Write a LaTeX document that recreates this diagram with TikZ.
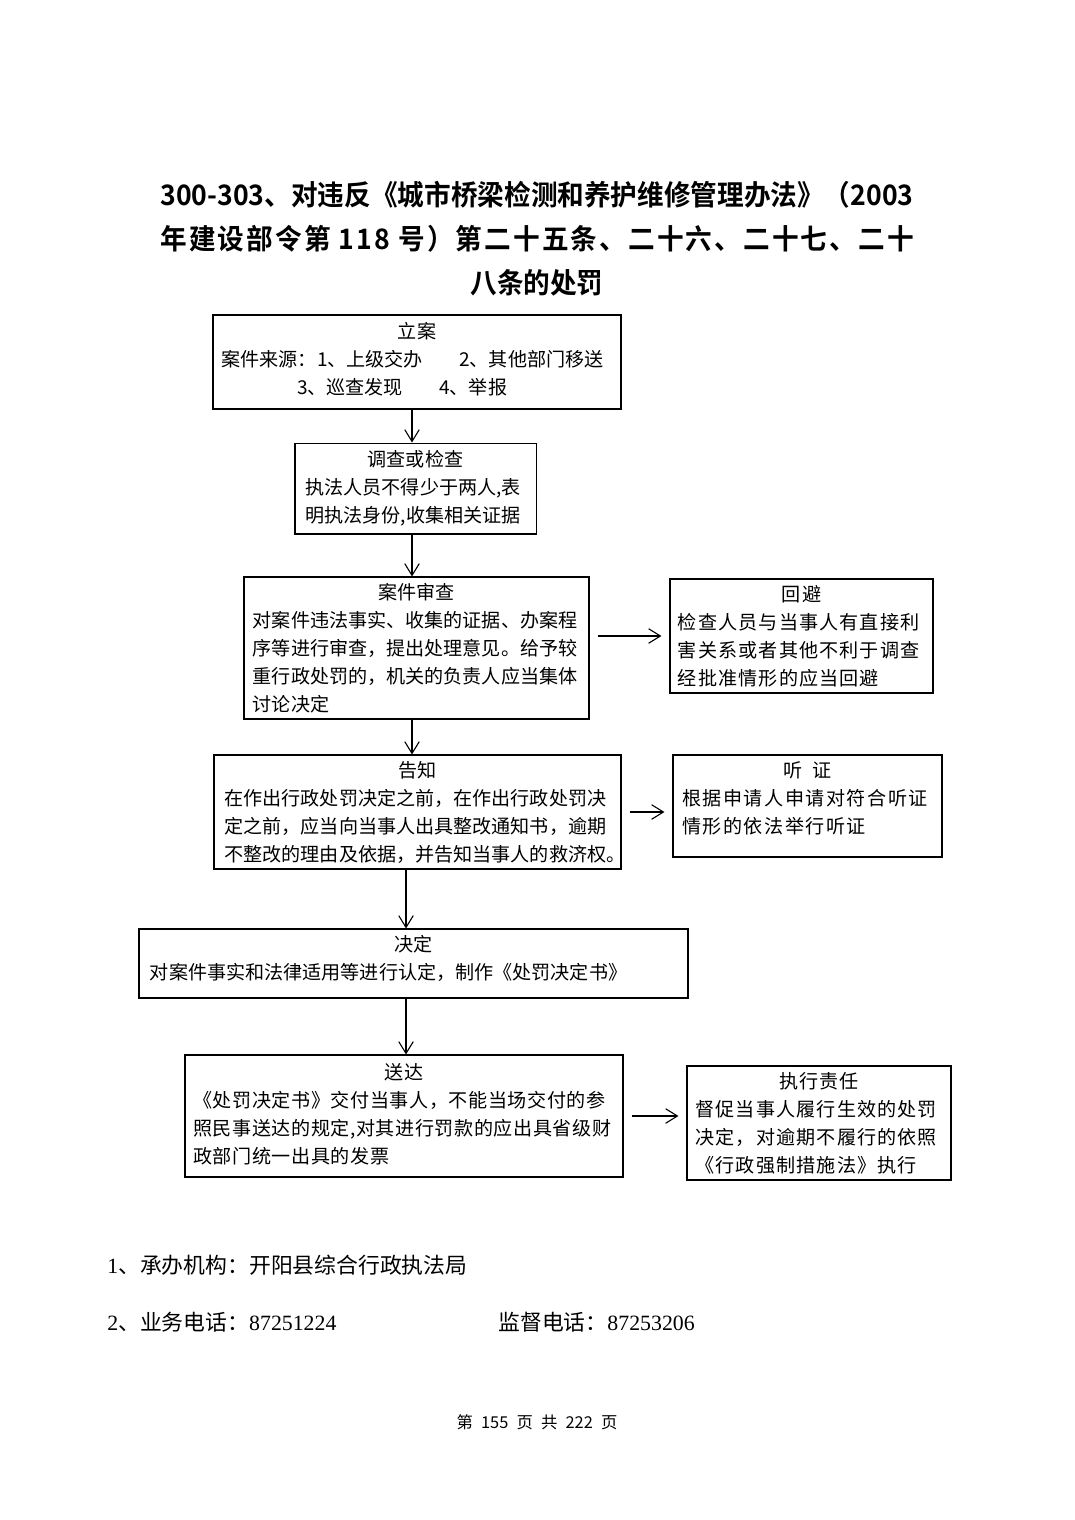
\documentclass[tikz,border=0pt]{standalone}
\usepackage{fontspec}
\setmainfont{Noto Sans CJK SC}[BoldFont={Noto Sans CJK SC Bold}]
\newfontfamily\numfont{Liberation Serif}
\newcommand{\dropby}[1]{\rule[-#1]{0pt}{0pt}}
\usetikzlibrary{arrows.meta}
\begin{document}
\begin{tikzpicture}[x=0.55pt,y=-0.55pt,
    box/.style={draw,line width=0.6pt,inner sep=0pt,align=left,
      font=\fontsize{10.5pt}{15.4pt}\selectfont},
    wide/.style={font=\fontsize{10.5pt}{15.4pt}\selectfont\addfontfeature{LetterSpace=#1}},
    arr/.style={line width=0.6pt,-{Straight Barb[length=6.5pt,width=8pt]}},
    side/.style={arr,shorten <=8pt*0.55,shorten >=8pt*0.55}]
  \useasboundingbox (0,0) rectangle (1074,1520);
  \node[align=center,font=\fontsize{15.5pt}{24.2pt}\selectfont\bfseries\addfontfeature{FakeStretch=0.945}] (title) at (537,239)
    {300-303、对违反《城市桥梁检测和养护维修管理办法》（2003\\
     {\addfontfeature{LetterSpace=7.5}年建设部令第 118 号）第二十五条、二十六、二十七、二十}\\
     八条的处罚};
  % main column
  \node[box,minimum width=224.4pt,minimum height=51.7pt,text width=215pt] (lian) at (417,362)
    {\makebox[\linewidth]{立案}\\
     案件来源：1、上级交办\kern1.9em 2、其他部门移送\\
     \hspace*{41.5pt}3、巡查发现\kern1.9em 4、举报\dropby{4.4pt}};
  \node[box,minimum width=132.6pt,minimum height=50pt,text width=121pt] (diaocha) at (415.5,488.5)
    {\makebox[\linewidth]{调查或检查}\\
     执法人员不得少于两人,表\\
     明执法身份,收集相关证据\dropby{1.5pt}};
  \node[box,minimum width=189.75pt,minimum height=78.1pt,text width=180pt] (shencha) at (416.5,648)
    {\makebox[\linewidth]{案件审查}\\
     对案件违法事实、收集的证据、办案程\\
     序等进行审查，提出处理意见。给予较\\
     重行政处罚的，机关的负责人应当集体\\
     讨论决定};
  \node[box,minimum width=223.85pt,minimum height=62.7pt,text width=212.3pt] (gaozhi) at (417.5,812)
    {\makebox[\linewidth]{告知}\\
     在作出行政处罚决定之前，在作出行政处罚决\\
     定之前，应当向当事人出具整改通知书，逾期\\
     不整改的理由及依据，并告知当事人的救济权。};
  \node[box,minimum width=301.95pt,minimum height=37.95pt,text width=289.9pt] (jueding) at (413.5,963.5)
    {\makebox[\linewidth]{决定}\\
     对案件事实和法律适用等进行认定，制作《处罚决定书》\dropby{7pt}};
  \node[box,wide=3,minimum width=240.9pt,minimum height=67.1pt,text width=232pt] (songda) at (404,1116)
    {\makebox[\linewidth]{送达}\\
     《处罚决定书》交付当事人，不能当场交付的参\\
     照民事送达的规定,对其进行罚款的应出具省级财\\
     政部门统一出具的发票\dropby{3.3pt}};
  % side column
  \node[box,wide=6,minimum width=144.65pt,minimum height=62.7pt,text width=136pt] (huibi) at (801.5,636)
    {\makebox[\linewidth]{回避}\\
     检查人员与当事人有直接利\\
     害关系或者其他不利于调查\\
     经批准情形的应当回避};
  \node[box,wide=8,minimum width=147.95pt,minimum height=56.1pt,text width=138pt] (tingzheng) at (807.5,806)
    {\makebox[\linewidth]{听\hspace{0.5em}证}\\
     根据申请人申请对符合听证\\
     情形的依法举行听证\dropby{8.8pt}};
  \node[box,wide=6,minimum width=145.2pt,minimum height=62.7pt,text width=136pt] (zhixing) at (819,1123)
    {\makebox[\linewidth]{执行责任}\\
     督促当事人履行生效的处罚\\
     决定，对逾期不履行的依照\\
     《行政强制措施法》执行};
  \coordinate (spineA) at (412,0);
  \coordinate (spineB) at (406,0);
  \draw[arr] (lian.south -| spineA) -- (diaocha.north -| spineA);
  \draw[arr] (diaocha.south -| spineA) -- (shencha.north -| spineA);
  \draw[arr] (shencha.south -| spineA) -- (gaozhi.north -| spineA);
  \draw[arr] (gaozhi.south -| spineB) -- (jueding.north -| spineB);
  \draw[arr] (jueding.south -| spineB) -- (songda.north -| spineB);
  \draw[side] (shencha.east |- huibi.west) -- (huibi.west);
  \draw[side] (gaozhi.east) -- (gaozhi.east -| tingzheng.west);
  \draw[side] (songda.east) -- (songda.east -| zhixing.west);
  % notes
  \node[anchor=west,inner sep=0pt,font=\fontsize{12pt}{14pt}\selectfont] (org) at (107,1265)
    {{\numfont 1}、承办机构：开阳县综合行政执法局};
  \node[anchor=west,inner sep=0pt,font=\fontsize{12pt}{14pt}\selectfont] (tel) at (107,1322)
    {{\numfont 2}、业务电话：{\numfont 87251224}};
  \node[anchor=west,inner sep=0pt,font=\fontsize{12pt}{14pt}\selectfont] (jdtel) at (498,1322)
    {监督电话：{\numfont 87253206}};
  \node[font=\fontsize{9pt}{11pt}\selectfont] (page) at (537,1422)
    {第\hspace{0.5em}155\hspace{0.5em}页\hspace{0.5em}共\hspace{0.5em}222\hspace{0.5em}页};
\end{tikzpicture}
\end{document}
